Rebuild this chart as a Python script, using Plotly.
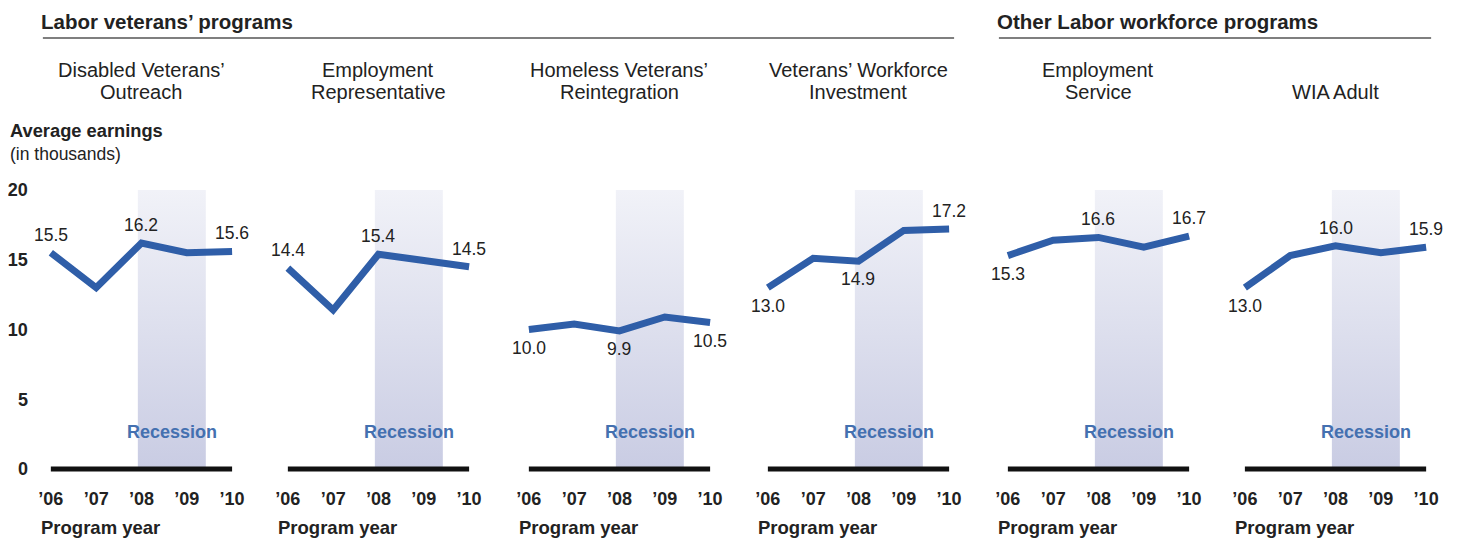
import plotly.graph_objects as go

# data
years = [2006, 2007, 2008, 2009, 2010]
year_labels = ["’06", "’07", "’08", "’09", "’10"]
y_ticks = [0, 5, 10, 15, 20]

title_line1 = ["Disabled Veterans’", "Employment", "Homeless Veterans’", "Veterans’ Workforce", "Employment", ""]
title_line2 = ["Outreach", "Representative", "Reintegration", "Investment", "Service", "WIA Adult"]

disabled_outreach = [15.5, 13.0, 16.2, 15.5, 15.6]
employment_rep = [14.4, 11.4, 15.4, 14.9, 14.5]
homeless_reint = [10.0, 10.4, 9.9, 10.9, 10.5]
vet_workforce = [13.0, 15.1, 14.9, 17.1, 17.2]
employment_service = [15.3, 16.4, 16.6, 15.9, 16.7]
wia_adult = [13.0, 15.3, 16.0, 15.5, 15.9]
series = [disabled_outreach, employment_rep, homeless_reint, vet_workforce, employment_service, wia_adult]

# which points get a value label and whether it sits above (1) or below (-1)
label_idx = [0, 2, 4]
label_side = [[1, 1, 1], [1, 1, 1], [-1, -1, -1], [-1, -1, 1], [-1, 1, 1], [-1, 1, 1]]

recession = (2007.92, 2009.42)

# layout geometry (pixels of the page; the page body adds an 8px margin)
OFF = 8
W, H = 1460 - OFF, 539 - OFF
x06 = [46, 284, 526, 766, 1007, 1245]
ppy = 45.5          # pixels per year
pad = 12
ppu = 13.95         # pixels per unit of y
y_zero_px = 469
y_lo, y_hi = -1.2, 21

FONT = "Arial, Liberation Sans, sans-serif"
BLUE = "#2f5ea8"
TXT = "#222222"


def fx(px):
    return (px - OFF) / W


def fy(py):
    return 1 - (py - OFF) / H


def note(px, py, text, size, anchor="center", vanchor="middle", color=TXT):
    if anchor == "left":
        px -= 4  # annotation box padding
    fig.add_annotation(x=fx(px), y=fy(py), xref="paper", yref="paper", xanchor=anchor,
                       yanchor=vanchor, text=text, showarrow=False,
                       font=dict(family=FONT, size=size, color=color))


fig = go.Figure()

for i, vals in enumerate(series):
    xa = "x" if i == 0 else f"x{i + 1}"
    # recession shading with vertical gradient
    fig.add_trace(go.Scatter(
        x=[recession[0], recession[1], recession[1], recession[0], recession[0]],
        y=[0, 0, 20, 20, 0],
        xaxis=xa, yaxis="y", mode="lines", line=dict(width=0),
        fill="toself",
        fillgradient=dict(type="vertical", colorscale=[[0, "#c9cce3"], [1, "#f1f2f8"]]),
        hoverinfo="skip", showlegend=False,
    ))
    # zero baseline
    fig.add_trace(go.Scatter(
        x=[years[0], years[-1]], y=[0, 0], xaxis=xa, yaxis="y", mode="lines",
        line=dict(color="#111111", width=5), hoverinfo="skip", showlegend=False,
    ))
    fig.add_trace(go.Scatter(
        x=years, y=vals, xaxis=xa, yaxis="y", mode="lines",
        line=dict(color=BLUE, width=7), showlegend=False,
    ))
    for k, idx in enumerate(label_idx):
        fig.add_annotation(
            x=years[idx], y=vals[idx], xref=xa, yref="y", text=f"{vals[idx]:.1f}",
            showarrow=False, yshift=18 * label_side[i][k], xanchor="center", yanchor="middle",
            font=dict(family=FONT, size=17.5, color=TXT),
        )
    fig.add_annotation(
        x=(recession[0] + recession[1]) / 2, y=2.65, xref=xa, yref="y", text="<b>Recession</b>",
        showarrow=False, xanchor="center", yanchor="middle",
        font=dict(family=FONT, size=18, color="#4470b0"),
    )
    cx = x06[i] + 2 * ppy
    if title_line1[i]:
        note(cx, 70, title_line1[i], 20)
    note(cx, 92, title_line2[i], 20)
    note(x06[i] - 8, 527, "<b>Program year</b>", 18.5, anchor="left")

    x_range = [years[0] - pad / ppy, years[-1] + pad / ppy]
    dom = [fx(x06[i] - pad), fx(x06[i] + 4 * ppy + pad)]
    fig.layout["xaxis" if i == 0 else f"xaxis{i + 1}"] = dict(
        domain=dom, range=x_range, anchor="y", tickvals=years, ticktext=year_labels,
        showgrid=False, zeroline=False, showline=False, ticks="",
        tickfont=dict(family=FONT, size=18, color=TXT, weight="bold"), fixedrange=True,
    )

fig.update_layout(
    yaxis=dict(
        domain=[fy(y_zero_px - y_lo * ppu), fy(y_zero_px - y_hi * ppu)],
        range=[y_lo, y_hi], anchor="x", tickvals=y_ticks, showgrid=False, zeroline=False,
        showline=False, ticks="", ticklabelstandoff=10,
        tickfont=dict(family=FONT, size=18, color=TXT, weight="bold"), fixedrange=True,
    ),
)

# section headings
note(38, 8, "<b>Labor veterans’ programs</b>", 20.5, anchor="left", vanchor="top")
note(998, 8, "<b>Other Labor workforce programs</b>", 20.5, anchor="left", vanchor="top")
fig.add_shape(type="line", xref="paper", yref="paper", x0=fx(38), x1=fx(953), y0=fy(38), y1=fy(38),
              line=dict(color="#555555", width=1.5))
fig.add_shape(type="line", xref="paper", yref="paper", x0=fx(998), x1=fx(1432), y0=fy(38), y1=fy(38),
              line=dict(color="#555555", width=1.5))

note(7, 131, "<b>Average earnings</b>", 18.3, anchor="left")
note(7, 154, "(in thousands)", 17.5, anchor="left")

fig.update_layout(
    width=W, height=H, margin=dict(l=0, r=0, t=0, b=0),
    paper_bgcolor="white", plot_bgcolor="rgba(0,0,0,0)",
    hovermode=False, showlegend=False,
)

fig.write_html("out.html")
